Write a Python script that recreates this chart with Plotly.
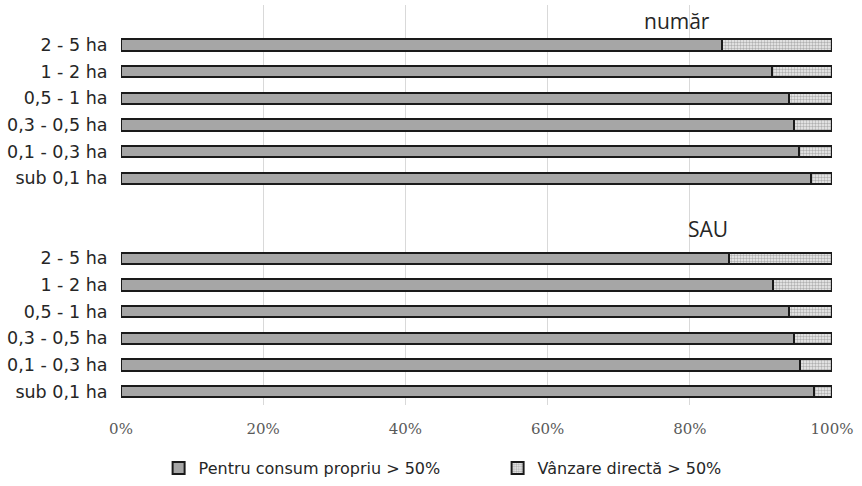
import plotly.graph_objects as go

# ---- data ----
size_classes = ["sub 0,1 ha", "0,1 - 0,3 ha", "0,3 - 0,5 ha", "0,5 - 1 ha", "1 - 2 ha", "2 - 5 ha"]
group_titles = ["SAU", "număr"]
# shares (%) – SAU group
sau_consum = [97.4, 95.5, 94.7, 93.9, 91.7, 85.5]
sau_vanzare = [2.6, 4.5, 5.3, 6.1, 8.3, 14.5]
# shares (%) – număr group
nr_consum = [97.0, 95.4, 94.7, 93.9, 91.5, 84.5]
nr_vanzare = [3.0, 4.6, 5.3, 6.1, 8.5, 15.5]
series_names = ["Pentru consum propriu > 50%", "Vânzare directă > 50%"]
x_ticks = [0, 20, 40, 60, 80, 100]
x_tick_labels = ["0%", "20%", "40%", "60%", "80%", "100%"]

# slot layout: SAU bars 0..5, SAU title ~6, număr bars 8..13, număr title ~14
sau_pos = list(range(0, 6))
nr_pos = list(range(8, 14))
title_pos = [6.1, 13.9]
title_x = [82.6, 78.2]

ypos = sau_pos + nr_pos
consum = sau_consum + nr_consum
vanzare = sau_vanzare + nr_vanzare
labels = size_classes + size_classes

line = dict(color="#1a1a1a", width=2)
fig = go.Figure()
fig.add_trace(go.Bar(
    y=ypos, x=consum, orientation="h", name=series_names[0], width=0.42,
    marker=dict(color="#a6a6a6", line=line),
))
fig.add_trace(go.Bar(
    y=ypos, x=vanzare, orientation="h", name=series_names[1], width=0.42,
    marker=dict(color="#e6e6e6", line=line,
                pattern=dict(shape=".", size=3, solidity=0.5,
                             fgcolor="#707070", bgcolor="#f0f0f0")),
))

for t, tx, ty in zip(group_titles, title_x, title_pos):
    fig.add_annotation(x=tx, y=ty, text=t, showarrow=False,
                       font=dict(family="Open Sans, Liberation Sans, sans-serif", size=21, color="#262626"))

fig.update_layout(
    barmode="stack",
    width=862, height=486,
    margin=dict(l=121, r=30, t=5, b=81, autoexpand=False),
    paper_bgcolor="white", plot_bgcolor="white",
    showlegend=True,
    legend=dict(orientation="h", xref="container", yref="container",
                x=0.184, y=0.037, xanchor="left", yanchor="middle",
                font=dict(family="DejaVu Sans, sans-serif", size=16, color="#262626"),
                entrywidth=294, entrywidthmode="pixels", traceorder="normal",
                itemwidth=30),
    xaxis=dict(range=[0, 100], tickvals=x_ticks, ticktext=x_tick_labels,
               showgrid=True, gridcolor="#d9d9d9", gridwidth=1,
               zeroline=False, showline=False, ticks="outside", ticklen=10, tickcolor="white",
               tickfont=dict(family="DejaVu Serif, serif", size=15, color="#595959")),
    yaxis=dict(range=[-0.5, 14.5], tickvals=ypos, ticktext=labels,
               showgrid=False, zeroline=False, showline=False,
               ticks="outside", ticklen=9, tickcolor="white",
               tickfont=dict(family="DejaVu Sans, sans-serif", size=17.5, color="#262626")),
    bargap=0,
)

fig.write_html("out.html", post_script="document.body.style.margin='0';",
               config={"displayModeBar": False})
